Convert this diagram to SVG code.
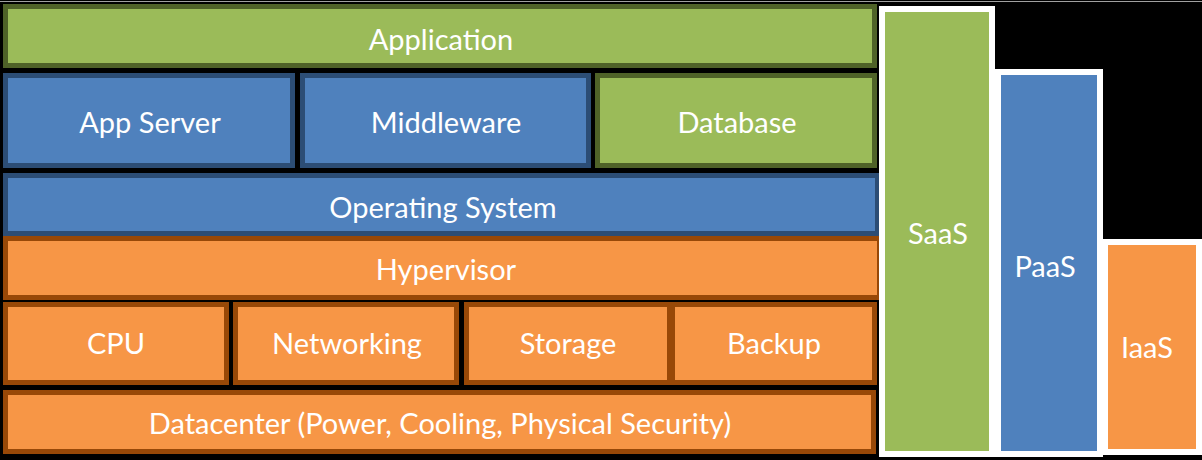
<svg xmlns="http://www.w3.org/2000/svg" width="1202" height="460" viewBox="0 0 1202 460">
<style>
.g{fill:#9bbb59;stroke:#4f6228;stroke-width:5}
.b{fill:#4f81bd;stroke:#2c4d75;stroke-width:5}
.o{fill:#f79646;stroke:#984807;stroke-width:5}
.gw{fill:#9bbb59;stroke:#ffffff;stroke-width:6}
.bw{fill:#4f81bd;stroke:#ffffff;stroke-width:6}
.ow{fill:#f79646;stroke:#ffffff;stroke-width:6}
text{font-family:Lato,"Open Sans","Liberation Sans",sans-serif;font-size:29px;fill:#ffffff;text-anchor:middle}
</style>
<rect x="0" y="0" width="1202" height="460" fill="#000000"/>
<line x1="0" y1="1.5" x2="1202" y2="1.5" stroke="#a0a0a0" stroke-width="1"/>
<g id="application"><rect class="g" x="5.5" y="6.5" width="869" height="59"/><text x="441" y="50">Application</text></g>
<g id="appserver"><rect class="b" x="5.5" y="75.5" width="287" height="90"/><text x="150" y="133">App Server</text></g>
<g id="middleware"><rect class="b" x="302.5" y="75.5" width="286" height="90"/><text x="446" y="133">Middleware</text></g>
<g id="database"><rect class="g" x="597.5" y="75.5" width="277" height="90"/><text x="737" y="133">Database</text></g>
<g id="os"><rect class="b" x="5.5" y="175.5" width="872" height="58"/><text x="443" y="218">Operating System</text></g>
<g id="hypervisor"><rect class="o" x="5.5" y="238.5" width="874" height="59"/><text x="446" y="280">Hypervisor</text></g>
<g id="cpu"><rect class="o" x="5.5" y="304.5" width="221" height="78"/><text x="116" y="354">CPU</text></g>
<g id="networking"><rect class="o" x="235.5" y="304.5" width="221" height="78"/><text x="347" y="354">Networking</text></g>
<g id="storage"><rect class="o" x="466.5" y="304.5" width="203" height="78"/><text x="568" y="354">Storage</text></g>
<g id="backup"><rect class="o" x="672.5" y="304.5" width="202" height="78"/><text x="774" y="354">Backup</text></g>
<g id="datacenter"><rect class="o" x="5.5" y="392.5" width="868" height="59"/><text x="440" y="434">Datacenter (Power, Cooling, Physical Security)</text></g>
<g id="saas"><rect class="gw" x="882" y="9" width="110" height="445"/><text x="938" y="244">SaaS</text></g>
<g id="paas"><rect class="bw" x="998" y="72" width="102" height="382"/><text x="1045" y="277">PaaS</text></g>
<g id="iaas"><rect class="ow" x="1105" y="242" width="94" height="210"/><text x="1147" y="358">IaaS</text></g>
<g id="connectors"></g>
</svg>
